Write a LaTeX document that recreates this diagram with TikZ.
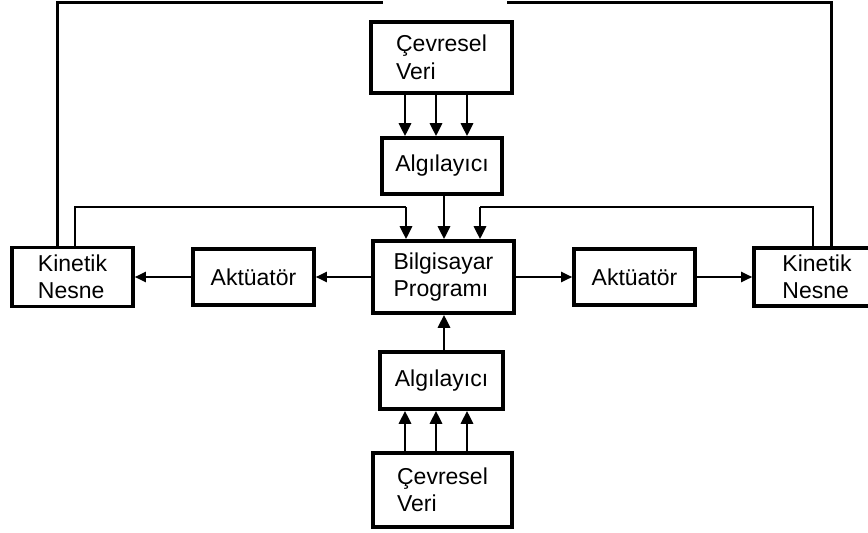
\documentclass[tikz,border=0pt]{standalone}
\usepackage{fontspec}
\setmainfont{Liberation Sans}
\usetikzlibrary{arrows.meta}
\begin{document}
\begin{tikzpicture}[x=1pt,y=-1pt,
  box/.style={draw, line width=3.6pt, fill=white, rectangle, inner sep=0pt, align=left,
    font=\fontsize{23}{27.5}\selectfont},
  arr/.style={line width=2.8pt, -{Triangle[length=13pt,width=12pt]}},
  thin arr/.style={line width=2pt, -{Triangle[length=11pt,width=10pt]}},
  fb/.style={line width=2.8pt},
  outer/.style={line width=3pt}]
\useasboundingbox (0,0) rectangle (868,533);
% nodes
\node[box, minimum width=141pt, minimum height=71pt] (cevT) at (441.5,57.5) {Çevresel\\Veri};
\node[box, minimum width=120pt, minimum height=56pt] (algT) at (442,166) {Algılayıcı};
\node[box, minimum width=141pt, minimum height=72pt] (bp) at (443.5,277) {Bilgisayar\\Programı};
\node[box, minimum width=121pt, minimum height=56pt] (aktL) at (253.5,277) {Aktüatör};
\node[box, minimum width=121pt, minimum height=59pt] (kinL) at (72.5,277) {Kinetik\\Nesne};
\node[box, minimum width=121pt, minimum height=56pt] (aktR) at (634.5,277) {Aktüatör};
\node[box, minimum width=126pt, minimum height=58pt] (kinR) at (817,277) {Kinetik\\Nesne};
\node[box, minimum width=123pt, minimum height=57pt] (algB) at (441.5,380.5) {Algılayıcı};
\node[box, minimum width=139pt, minimum height=74pt] (cevB) at (442.5,490) {Çevresel\\Veri};
% helper x positions
\coordinate (a1) at (405,0);
\coordinate (a2) at (436,0);
\coordinate (a3) at (467,0);
\coordinate (b1) at (406,207);
\coordinate (b2) at (444,0);
\coordinate (b3) at (480,207);
\coordinate (kl1) at (75,0);
\coordinate (kl0) at (57,0);
\coordinate (kr1) at (813,0);
\coordinate (kr0) at (831,0);
\coordinate (topL) at (383,2);
\coordinate (topR) at (507,2);
% sensors
\foreach \c in {a1,a2,a3}{
  \draw[arr] (\c |- cevT.south) -- (\c |- algT.north);
  \draw[arr] (\c |- cevB.north) -- (\c |- algB.south);
}
\draw[arr] (b2 |- algT.south) -- (b2 |- bp.north);
\draw[arr] (b2 |- algB.north) -- (b2 |- bp.south);
% feedback
\draw[fb] (kl1 |- kinL.north) |- (b1);
\draw[arr] (b1) -- (b1 |- bp.north);
\draw[fb] (kr1 |- kinR.north) |- (b3);
\draw[arr] (b3) -- (b3 |- bp.north);
% outer lines
\draw[outer] (kl0 |- kinL.north) |- (topL);
\draw[outer] (kr0 |- kinR.north) |- (topR);
% actuator arrows
\draw[thin arr] (bp.west) -- (aktL.east);
\draw[thin arr] (aktL.west) -- (kinL.east);
\draw[thin arr] (bp.east) -- (aktR.west);
\draw[thin arr] (aktR.east) -- (kinR.west);
\end{tikzpicture}
\end{document}
